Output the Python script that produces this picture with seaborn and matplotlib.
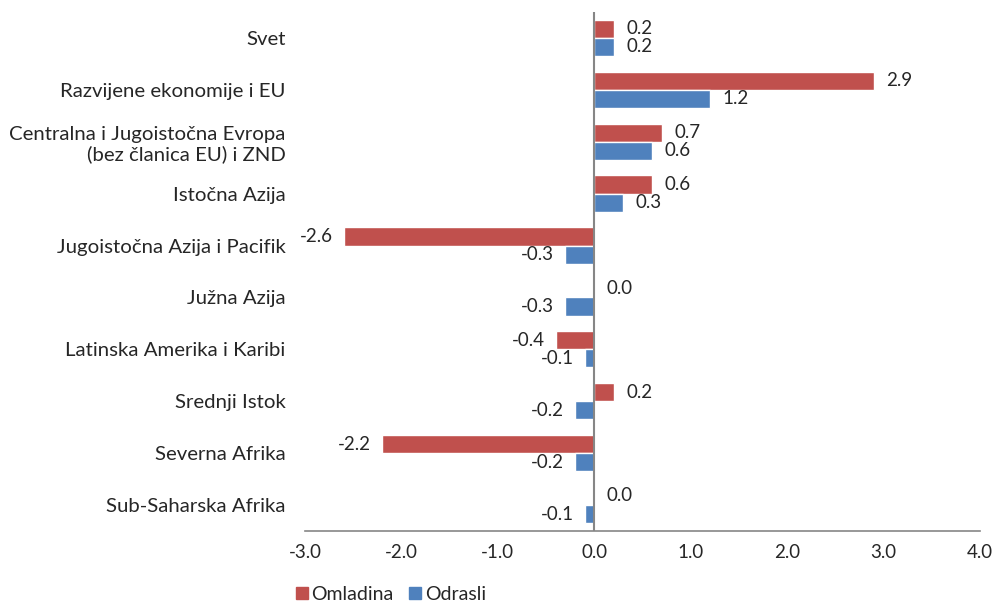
import pandas as pd
import matplotlib.pyplot as plt
import seaborn as sns

# Data
regions = [
    "Svet",
    "Razvijene ekonomije i EU",
    "Centralna i Jugoistočna Evropa\n(bez članica EU) i ZND",
    "Istočna Azija",
    "Jugoistočna Azija i Pacifik",
    "Južna Azija",
    "Latinska Amerika i Karibi",
    "Srednji Istok",
    "Severna Afrika",
    "Sub-Saharska Afrika",
]
omladina = [0.2, 2.9, 0.7, 0.6, -2.6, 0.0, -0.4, 0.2, -2.2, 0.0]
odrasli = [0.2, 1.2, 0.6, 0.3, -0.3, -0.3, -0.1, -0.2, -0.2, -0.1]
series = ["Omladina", "Odrasli"]
colors = ["#C0504D", "#4F81BD"]
xticks = [-3, -2, -1, 0, 1, 2, 3, 4]

df = pd.DataFrame({
    "region": regions * 2,
    "value": omladina + odrasli,
    "series": [series[0]] * len(regions) + [series[1]] * len(regions),
})

sns.set_style("white")
plt.rcParams["font.family"] = ["Lato", "DejaVu Sans"]
text_color = "#262626"

fig = plt.figure(figsize=(9.97, 6.05), dpi=100)
ax = fig.add_axes([0.306, 0.1223, 0.677, 0.858])

sns.barplot(data=df, y="region", x="value", hue="series", orient="h",
            palette=colors, width=0.7, saturation=1, ax=ax, legend=False)

# value labels
for container, vals in zip(ax.containers, [omladina, odrasli]):
    for bar, v in zip(container, vals):
        y = bar.get_y() + bar.get_height() / 2
        ax.annotate(f"{v:.1f}", xy=(v, y),
                    xytext=(9 if v >= 0 else -8, 0), textcoords="offset points",
                    ha="left" if v >= 0 else "right", va="center",
                    fontsize=13.5, color=text_color)

ax.set_xlim(-3, 4)
ax.set_xticks(xticks)
ax.set_xticklabels([f"{t:.1f}" for t in xticks])
ax.axvline(0, color="#868686", lw=1.5, zorder=3)
ax.set_xlabel("")
ax.set_ylabel("")
for s in ["top", "right", "left"]:
    ax.spines[s].set_visible(False)
ax.spines["bottom"].set_color("#868686")
ax.spines["bottom"].set_linewidth(1.2)
ax.tick_params(axis="y", length=0, pad=14, labelsize=14.7, labelcolor=text_color)
ax.tick_params(axis="x", length=0, pad=9, labelsize=13.5, labelcolor=text_color)

handles = [plt.Rectangle((0, 0), 1, 1, color=c) for c in colors]
fig.legend(handles, series, loc="lower left", bbox_to_anchor=(0.295, 0.0),
           ncol=2, frameon=False, handlelength=0.6, handleheight=0.6,
           handletextpad=0.2, columnspacing=0.8, fontsize=14, borderpad=0.1,
           labelcolor=text_color, borderaxespad=0)

fig.savefig("out.png", dpi=100)
